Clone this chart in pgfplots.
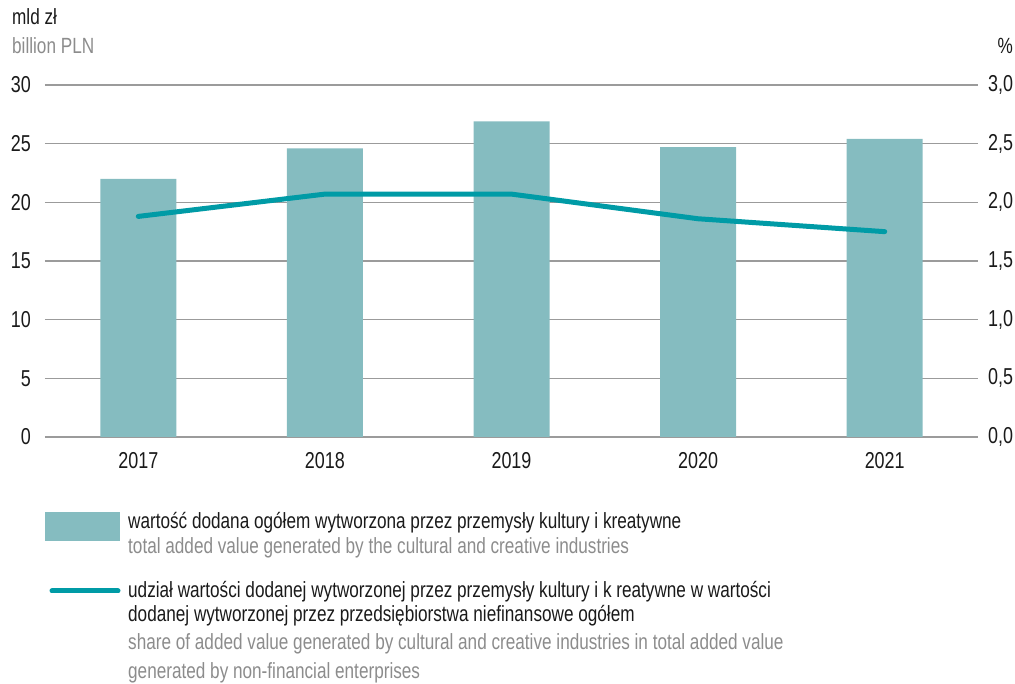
\documentclass[border=0pt]{standalone}
\usepackage{pgfplots}
\pgfplotsset{compat=1.18}
\usepackage{fontspec}
\setmainfont{Liberation Sans}[FakeStretch=0.78]
\definecolor{barc}{HTML}{85BCC0}
\definecolor{linec}{HTML}{009BA6}
\definecolor{gridc}{HTML}{9B9B9B}
\definecolor{txtgray}{HTML}{8C8C8C}
\definecolor{txt}{HTML}{1A1A1A}
\begin{document}
\fontsize{22}{25}\selectfont
\begin{tikzpicture}
\useasboundingbox (-45pt,-247pt) rectangle (970pt,437pt);
\begin{axis}[
  scale only axis, width=933pt, height=352pt,
  xmin=-0.5, xmax=4.5, ymin=0, ymax=30,
  axis line style={draw=none}, major tick length=0pt,
  ytick={0,5,...,30},
  ymajorgrids, grid style={gridc, line width=1.1pt},
  xtick={0,1,2,3,4}, xticklabels={2017,2018,2019,2020,2021},
  ticklabel style={font=\fontsize{23}{25}\selectfont, text=txt},
  yticklabel style={anchor=east, inner sep=0pt, xshift=-14pt},
  xticklabel style={anchor=north, inner sep=0pt, yshift=-15pt},
  /pgf/number format/assume math mode=true,
  ybar, bar width=76pt,
]
\addplot[fill=barc, draw=none] coordinates {(0,22.0) (1,24.6) (2,26.9) (3,24.7) (4,25.4)};
\end{axis}
\begin{axis}[
  scale only axis, width=933pt, height=352pt,
  xmin=-0.5, xmax=4.5, ymin=0, ymax=3,
  axis line style={draw=none}, major tick length=0pt,
  hide x axis,
  ytick={0,0.5,...,3}, yticklabel pos=right,
  ticklabel style={font=\fontsize{23}{25}\selectfont, text=txt},
  yticklabel style={anchor=west, inner sep=0pt, xshift=10pt,
    /pgf/number format/.cd, use comma, fixed, fixed zerofill, precision=1, assume math mode=true},
]
\addplot[linec, line width=5pt, line cap=round, line join=round] coordinates {(0,1.88) (1,2.07) (2,2.07) (3,1.86) (4,1.75)};
\end{axis}
\begin{scope}[x=1pt,y=1pt,shift={(-45pt,-247pt)}]
\node[anchor=base west, inner sep=0pt, text=txt] at (12,659) {mld zł};
\node[anchor=base west, inner sep=0pt, text=txtgray] at (12,630) {billion PLN};
\node[anchor=base east, inner sep=0pt, text=txt] at (1013,630) {\%};
% legend
\fill[barc] (45,143) rectangle (120,172);
\node[anchor=base west, inner sep=0pt, text=txt] at (128,155) {wartość dodana ogółem wytworzona przez przemysły kultury i kreatywne};
\node[anchor=base west, inner sep=0pt, text=txtgray] at (128,130) {total added value generated by the cultural and creative industries};
\draw[linec, line width=5pt, line cap=round] (52,93) -- (118,93);
\node[anchor=base west, inner sep=0pt, text=txt] at (128,86) {udział wartości dodanej wytworzonej przez przemysły kultury i k reatywne w wartości};
\node[anchor=base west, inner sep=0pt, text=txt] at (128,62) {dodanej wytworzonej przez przedsiębiorstwa niefinansowe ogółem};
\node[anchor=base west, inner sep=0pt, text=txtgray] at (128,34) {share of added value generated by cultural and creative industries in total added value};
\node[anchor=base west, inner sep=0pt, text=txtgray] at (128,5) {generated by non-financial enterprises};
\end{scope}
\end{tikzpicture}
\end{document}
